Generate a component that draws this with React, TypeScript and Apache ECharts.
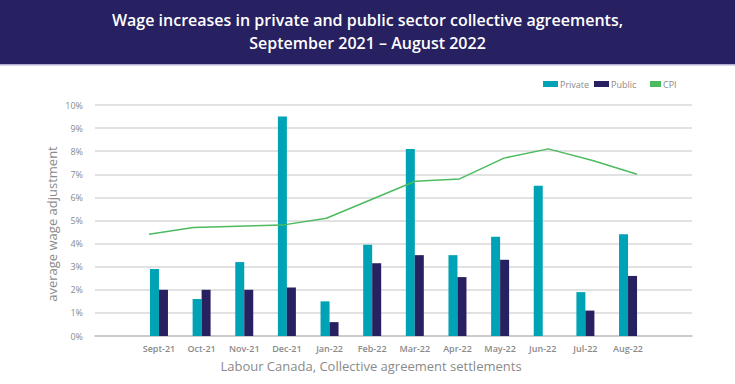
import React, { useEffect, useRef } from "react";
import * as echarts from "echarts";

const categories = ["", "Sept-21", "Oct-21", "Nov-21", "Dec-21", "Jan-22", "Feb-22", "Mar-22", "Apr-22", "May-22", "Jun-22", "Jul-22", "Aug-22", ""];
const privateValues = [null, 2.9, 1.6, 3.2, 9.5, 1.5, 3.95, 8.1, 3.5, 4.3, 6.5, 1.9, 4.4, null];
const publicValues = [null, 2.0, 2.0, 2.0, 2.1, 0.6, 3.15, 3.5, 2.55, 3.3, null, 1.1, 2.6, null];
const cpiMonths = ["Sept-21", "Oct-21", "Nov-21", "Dec-21", "Jan-22", "Feb-22", "Mar-22", "Apr-22", "May-22", "Jun-22", "Jul-22", "Aug-22"];
const cpiValues = [4.4, 4.7, 4.75, 4.8, 5.1, 5.9, 6.7, 6.8, 7.7, 8.1, 7.6, 7.0];
const seriesNames = ["Private", "Public", "CPI"];

const titleLines = ["Wage increases in private and public sector collective agreements,", "September 2021 \u2013 August 2022"];
const FONT = "'Open Sans', sans-serif";
const TEAL = "#00a3b5";
const NAVY = "#272061";
const GREEN = "#4cbb5f";
const GRAY = "#8a8a8a";

const legendItems = [
  { name: seriesNames[0], color: TEAL, x: 543, w: 15 },
  { name: seriesNames[1], color: NAVY, x: 594, w: 15 },
  { name: seriesNames[2], color: GREEN, x: 650, w: 11 },
];

export default function App() {
  const ref = useRef<HTMLDivElement>(null);
  useEffect(() => {
    document.body.style.margin = "0";
    const chart = echarts.init(ref.current!, null, { renderer: "svg" });
    const legendGraphics: any[] = [];
    legendItems.forEach((it) => {
      legendGraphics.push({ type: "rect", x: it.x, y: 81, shape: { width: it.w, height: 6 }, style: { fill: it.color } });
      legendGraphics.push({ type: "text", x: it.x + it.w + 2, y: 84.5, style: { text: it.name, fill: GRAY, font: `9px ${FONT}`, verticalAlign: "middle" } });
    });
    chart.setOption({
      animation: false,
      backgroundColor: "#ffffff",
      textStyle: { fontFamily: FONT },
      graphic: [
        { type: "rect", left: 0, top: 0, shape: { width: 735, height: 64 }, style: { fill: NAVY } },
        { type: "rect", left: 0, top: 64, shape: { width: 735, height: 1.5 }, style: { fill: "#b3aed6" } },
        { type: "text", left: "center", top: 12, style: { text: titleLines[0], fill: "#ffffff", font: `600 16px ${FONT}` } },
        { type: "text", left: "center", top: 35, style: { text: titleLines[1], fill: "#ffffff", font: `600 16px ${FONT}` } },
        { type: "text", x: 371, y: 366, style: { text: "Labour Canada, Collective agreement settlements", fill: GRAY, font: `13px ${FONT}`, align: "center", verticalAlign: "middle" } },
        { type: "text", x: 52, y: 224, rotation: Math.PI / 2, style: { text: "average wage adjustment", fill: GRAY, font: `13px ${FONT}`, align: "center", verticalAlign: "middle" } },
        ...legendGraphics,
      ],
      grid: [
        { left: 95, right: 43, top: 105, bottom: 48 },
        { left: 149, right: 98, top: 105, bottom: 48 },
      ],
      xAxis: [
        {
          type: "category",
          gridIndex: 0,
          data: categories,
          axisTick: { show: false },
          axisLine: { lineStyle: { color: "#c4c4c4", width: 1.5 } },
          axisLabel: { fontSize: 9, color: GRAY, fontWeight: 600, margin: 8, interval: 0 },
        },
        { type: "category", gridIndex: 1, data: cpiMonths, boundaryGap: false, show: false },
      ],
      yAxis: [
        {
          type: "value",
          gridIndex: 0,
          min: 0,
          max: 10,
          interval: 1,
          axisLabel: { formatter: "{value}%", fontSize: 9, color: GRAY, margin: 12 },
          axisLine: { show: false },
          axisTick: { show: false },
          splitLine: { lineStyle: { color: "#d9d9d9", width: 1.5 } },
        },
        { type: "value", gridIndex: 1, min: 0, max: 10, show: false, splitLine: { show: false } },
      ],
      series: [
        { name: seriesNames[0], type: "bar", xAxisIndex: 0, yAxisIndex: 0, data: privateValues, barWidth: 9, barGap: "0%", itemStyle: { color: TEAL } },
        { name: seriesNames[1], type: "bar", xAxisIndex: 0, yAxisIndex: 0, data: publicValues, barWidth: 9, barGap: "0%", itemStyle: { color: NAVY } },
        { name: seriesNames[2], type: "line", xAxisIndex: 1, yAxisIndex: 1, data: cpiValues, symbol: "none", lineStyle: { color: GREEN, width: 1.5 }, itemStyle: { color: GREEN } },
      ],
    });
    return () => chart.dispose();
  }, []);
  return <div ref={ref} style={{ width: 735, height: 384 }} />;
}
